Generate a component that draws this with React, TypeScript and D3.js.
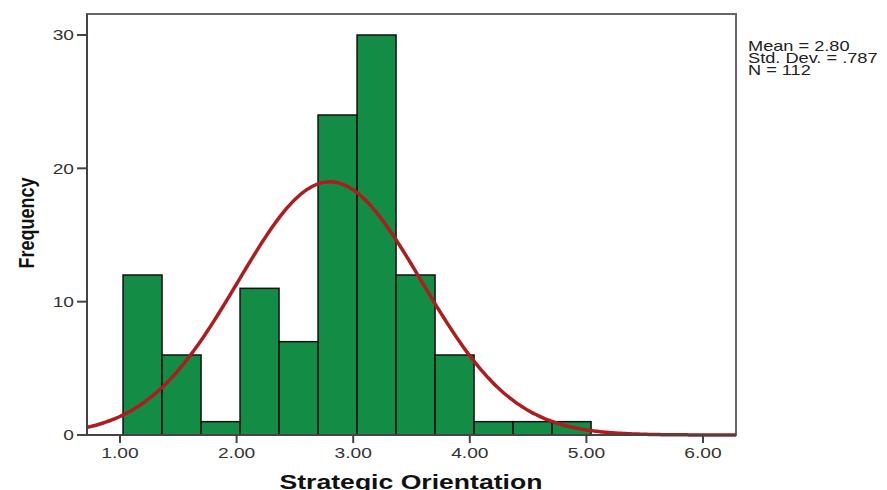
import * as d3 from 'd3'

// histogram counts per bin
const BIN_START = 1.026
const BIN_WIDTH = 0.3345
const COUNTS = [12, 6, 1, 11, 7, 24, 30, 12, 6, 1, 1, 1]
const X_TICKS = [1, 2, 3, 4, 5, 6]
const Y_TICKS = [0, 10, 20, 30]
const STATS = ['Mean = 2.80', 'Std. Dev. = .787', 'N = 112']
const MEAN = 2.8
const SD = 0.787
const N = 112

const W = 887
const H = 490
const M = { left: 87, right: 736, top: 14, bottom: 435 }
// the source image is stretched sideways, so are its texts
const SX = 1.28

export default function App() {
  const x = d3.scaleLinear().domain([1, 6]).range([120, 703])
  const y = d3.scaleLinear().domain([0, 30]).range([M.bottom, 35])

  const bins = COUNTS.map((c, i) => ({
    x0: BIN_START + i * BIN_WIDTH,
    x1: BIN_START + (i + 1) * BIN_WIDTH,
    c,
  }))

  const xMin = x.invert(M.left)
  const xMax = x.invert(M.right)
  const pts = d3.range(0, 201).map(i => xMin + (i / 200) * (xMax - xMin))
  const dens = (v: number) =>
    (N * BIN_WIDTH) / (SD * Math.sqrt(2 * Math.PI)) * Math.exp(-0.5 * ((v - MEAN) / SD) ** 2)
  const line = d3.line<number>().x(d => x(d)).y(d => y(dens(d))).curve(d3.curveBasis)

  return (
    <svg width={W} height={H} style={{ position: 'absolute', left: 0, top: 0, background: '#fff' }}
      fontFamily="'Liberation Sans', Arial, sans-serif">
      <rect x={M.left} y={M.top} width={M.right - M.left} height={M.bottom - M.top}
        fill="#fff" stroke="#666" strokeWidth={2} />
      {bins.map((b, i) => (
        <rect key={i} x={x(b.x0)} y={y(b.c)} width={x(b.x1) - x(b.x0)} height={y(0) - y(b.c)}
          fill="#138c45" stroke="#111" strokeWidth={1.5} />
      ))}
      <path d={line(pts) ?? ''} fill="none" stroke="#ae1c1f" strokeWidth={3.5} />
      <line x1={M.left} x2={M.left} y1={M.top} y2={M.bottom} stroke="#444" strokeWidth={2} />
      <line x1={M.left} x2={M.right} y1={M.bottom} y2={M.bottom} stroke="#444" strokeWidth={2} />
      {Y_TICKS.map(t => (
        <g key={t}>
          <line x1={M.left - 10} x2={M.left} y1={y(t)} y2={y(t)} stroke="#444" strokeWidth={2} />
          <text transform={`translate(${M.left - 13},${y(t)}) scale(${SX},1)`} dy="0.36em"
            textAnchor="end" fontSize={15} fill="#333">{t}</text>
        </g>
      ))}
      {X_TICKS.map(t => (
        <g key={t}>
          <line x1={x(t)} x2={x(t)} y1={M.bottom} y2={M.bottom + 8} stroke="#444" strokeWidth={2} />
          <text transform={`translate(${x(t)},${M.bottom + 23}) scale(${SX},1)`}
            textAnchor="middle" fontSize={15} fill="#333">{t.toFixed(2)}</text>
        </g>
      ))}
      <text transform={`translate(411,489) scale(1.33,1)`} textAnchor="middle" fontSize={20}
        fontWeight="bold" fill="#111">Strategic Orientation</text>
      <text transform="translate(34,223) rotate(-90) scale(1,1.2)" textAnchor="middle" fontSize={18}
        fontWeight="bold" fill="#111">Frequency</text>
      {STATS.map((s, i) => (
        <text key={s} transform={`translate(748,${51 + i * 12}) scale(1.3,1)`} fontSize={14} fill="#222">{s}</text>
      ))}
    </svg>
  )
}
